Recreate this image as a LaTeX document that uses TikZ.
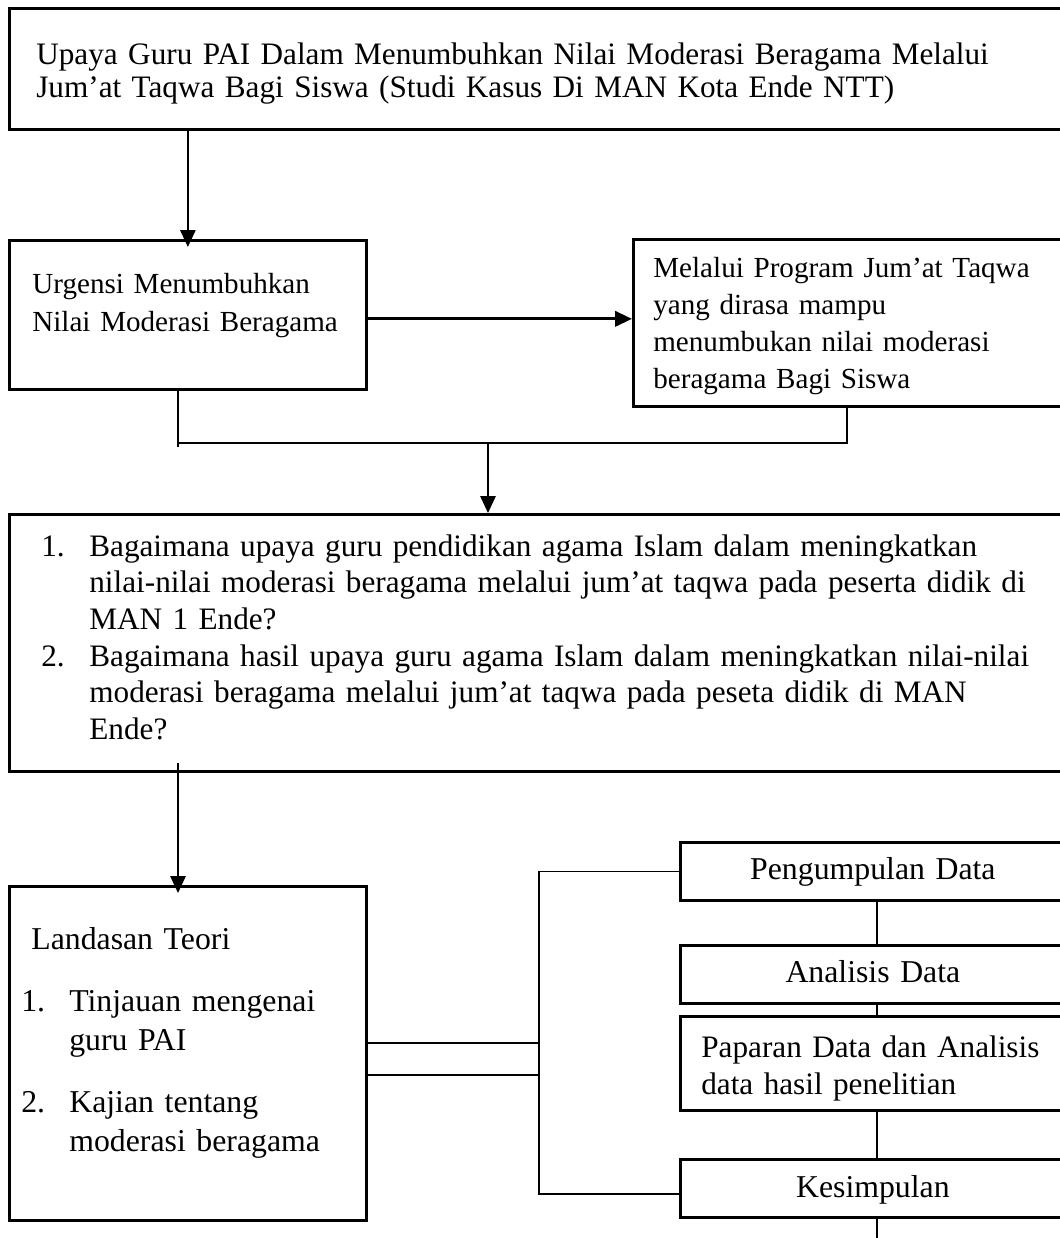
\documentclass[tikz,border=0pt]{standalone}
\usepackage{fontspec}
\setmainfont{Liberation Serif}
\usetikzlibrary{arrows.meta}
\newcommand{\butir}[1]{\makebox[1.2cm][l]{#1}}

\begin{document}
\begin{tikzpicture}[x=0.025cm, y=-0.025cm,
    kotak/.style={draw, line width=1.9pt, anchor=north west, inner ysep=0pt, align=left},
    huruf/.style={font={\fontsize{22.6pt}{#1}\selectfont}},
    sedang/.style={font={\fontsize{22.2pt}{#1}\selectfont}},
    kecil/.style={font={\fontsize{20.7pt}{#1}\selectfont}},
    panah/.style={line width=1.3pt, -{Triangle[length=0.42cm, width=0.38cm]}},
    garis/.style={line width=0.8pt}]
\useasboundingbox (0,0) rectangle (1060,1238);
\clip (0,0) rectangle (1060,1238);

\begin{scope}[every node/.style={kotak}]
    \node[sedang=23.5pt, inner xsep=0.675cm, text width=26cm, text height=1.4cm, text depth=1.625cm] (judul) at (8,7)
        {Upaya Guru PAI Dalam Menumbuhkan Nilai Moderasi Beragama Melalui\\ Jum’at Taqwa Bagi Siswa (Studi Kasus Di MAN Kota Ende NTT)};
    \node[kecil=27pt, inner xsep=0.575cm, text width=7.775cm, text height=1.325cm, text depth=2.4cm] (urgensi) at (8,239)
        {Urgensi Menumbuhkan\\ Nilai Moderasi Beragama};
    \node[kecil=26.3pt, inner xsep=0.5cm, text width=10.5cm, text height=0.95cm, text depth=3.225cm] (program) at (632,238)
        {Melalui Program Jum’at Taqwa\\ yang dirasa mampu\\ menumbukan nilai moderasi\\ beragama Bagi Siswa};
    \node[sedang=26pt, inner xsep=0.8cm, text width=26cm, text height=1.05cm, text depth=5.375cm] (rumusan) at (8,513)
        {\butir{1.}Bagaimana upaya guru pendidikan agama Islam dalam meningkatkan\\
         \hspace*{1.2cm}nilai-nilai moderasi beragama melalui jum’at taqwa pada peserta didik di\\
         \hspace*{1.2cm}MAN 1 Ende?\\
         \butir{2.}Bagaimana hasil upaya guru agama Islam dalam meningkatkan nilai-nilai\\
         \hspace*{1.2cm}moderasi beragama melalui jum’at taqwa pada peseta didik di MAN\\
         \hspace*{1.2cm}Ende?};
    \node[huruf=27.7pt, inner xsep=0.3cm, text width=8.325cm, text height=1.575cm, text depth=6.775cm] (landasan) at (8,885)
        {\hspace*{0.25cm}Landasan Teori\\[0.575cm]
         \butir{1.}Tinjauan mengenai\\
         \hspace*{1.2cm}guru PAI\\[0.575cm]
         \butir{2.}Kajian tentang\\
         \hspace*{1.2cm}moderasi beragama};
    \node[huruf=26pt, align=center, inner xsep=0.5cm, text width=8.625cm, text height=0.925cm, text depth=0.525cm] (kumpul) at (679,841) {Pengumpulan Data};
    \node[huruf=26pt, align=center, inner xsep=0.5cm, text width=8.625cm, text height=0.925cm, text depth=0.525cm] (analisis) at (679,944) {Analisis Data};
    \node[sedang=26.3pt, inner xsep=0.525cm, text width=10cm, text height=1.025cm, text depth=1.325cm] (paparan) at (679,1015)
        {Paparan Data dan Analisis\\ data hasil penelitian};
    \node[huruf=26pt, align=center, inner xsep=0.5cm, text width=8.625cm, text height=0.95cm, text depth=0.5cm] (kesimpulan) at (679,1158) {Kesimpulan};
\end{scope}

\coordinate (kiri) at (178,447);
\coordinate (gabung) at (488,443);
\coordinate (kanan) at (847,443);
\coordinate (g1) at (539,1043);
\coordinate (g2) at (539,1075);
\coordinate (s2) at (539,1194);
\coordinate (rantai) at (877,0);
\coordinate (ujung) at (877,1250);

\draw[panah, shorten >=-0.2cm] (judul.south -| urgensi.north) -- (urgensi.north);
\draw[panah, line width=2pt] ([yshift=-0.1cm]urgensi.east) -- ([yshift=-0.1cm]urgensi.east -| program.west);
\draw[garis] (urgensi.south -| kiri) -- (kiri);
\draw[garis] (kiri |- gabung) -- (kanan) -- (program.south -| kanan);
\draw[panah] (gabung) -- (gabung |- rumusan.north);
\draw[panah, shorten <=-0.25cm, shorten >=-0.2cm] (rumusan.south -| kiri) -- (landasan.north -| kiri);

\draw[garis] (landasan.east |- g1) -- (g1);
\draw[garis] (landasan.east |- g2) -- (g2);
\draw[garis] (kumpul.west) -| (s2) -- (kesimpulan.west |- s2);
\foreach \a/\b in {kumpul/analisis, analisis/paparan, paparan/kesimpulan}
    \draw[garis] (\a.south -| rantai) -- (\b.north -| rantai);
\draw[garis] (kesimpulan.south -| rantai) -- (ujung);
\end{tikzpicture}
\end{document}
